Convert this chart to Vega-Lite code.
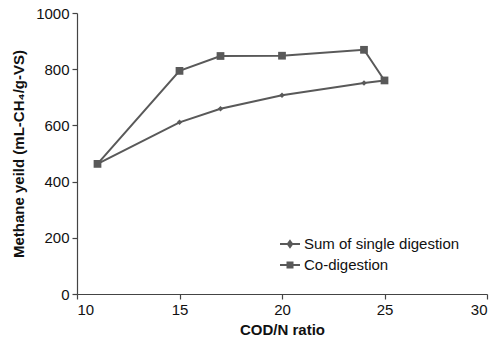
{
  "$schema": "https://vega.github.io/schema/vega-lite/v6.json",
  "width": 410,
  "height": 281,
  "autosize": {"type": "none"},
  "padding": {"left": 77, "top": 13, "right": 8, "bottom": 50},
  "background": "white",
  "config": {
    "view": {"stroke": null},
    "font": "Liberation Sans",
    "axis": {"grid": false, "domainColor": "#444", "tickColor": "#444", "labelColor": "#111", "titleColor": "#111", "labelFont": "Liberation Sans", "titleFont": "Liberation Sans", "labelFontSize": 15, "titleFontSize": 15, "titleFontWeight": "bold", "domainWidth": 1.2, "tickWidth": 1.2, "tickSize": 5}
  },
  "data": {
    "values": [
      {"ratio": 11, "yield": 463, "series": "Sum of single digestion"},
      {"ratio": 15, "yield": 611, "series": "Sum of single digestion"},
      {"ratio": 17, "yield": 659, "series": "Sum of single digestion"},
      {"ratio": 20, "yield": 707, "series": "Sum of single digestion"},
      {"ratio": 24, "yield": 751, "series": "Sum of single digestion"},
      {"ratio": 25, "yield": 760, "series": "Sum of single digestion"},
      {"ratio": 11, "yield": 463, "series": "Co-digestion"},
      {"ratio": 15, "yield": 794, "series": "Co-digestion"},
      {"ratio": 17, "yield": 847, "series": "Co-digestion"},
      {"ratio": 20, "yield": 848, "series": "Co-digestion"},
      {"ratio": 24, "yield": 869, "series": "Co-digestion"},
      {"ratio": 25, "yield": 760, "series": "Co-digestion"}
    ]
  },
  "encoding": {
    "x": {"field": "ratio", "type": "quantitative", "scale": {"domain": [10, 30], "nice": false}, "axis": {"values": [10, 15, 20, 25, 30], "title": "COD/N ratio", "titlePadding": 5, "labelPadding": 3, "format": "d"}},
    "y": {"field": "yield", "type": "quantitative", "scale": {"domain": [0, 1000], "nice": false}, "axis": {"values": [0, 200, 400, 600, 800, 1000], "title": "Methane yeild (mL-CH₄/g-VS)", "titlePadding": 9, "labelPadding": 3, "format": "d"}}
  },
  "layer": [
    {
      "mark": {"type": "line", "strokeWidth": 2},
      "encoding": {
        "detail": {"field": "series"},
        "color": {"value": "#595959"}
      }
    },
    {
      "mark": {"type": "point", "filled": true, "opacity": 1},
      "encoding": {
        "shape": {"condition": {"test": "datum.series === 'Co-digestion'", "value": "square"}, "value": "diamond"},
        "size": {"condition": {"test": "datum.series === 'Co-digestion'", "value": 60}, "value": 30},
        "color": {"value": "#595959"}
      }
    },
    {
      "mark": {"type": "point", "filled": false, "opacity": 0, "strokeWidth": 2},
      "encoding": {
        "shape": {
          "field": "series", "type": "nominal",
          "scale": {"domain": ["Sum of single digestion", "Co-digestion"], "range": ["M-1,0H1M0,-0.3L0.22,0L0,0.3L-0.22,0ZM-0.1,-0.1H0.1M-0.1,0.1H0.1", "M-1,0H1M-0.35,-0.25H0.35M-0.35,-0.08H0.35M-0.35,0.08H0.35M-0.35,0.25H0.35"]},
          "legend": {
            "title": null, "orient": "none", "legendX": 202, "legendY": 220,
            "padding": 0, "symbolSize": 400, "rowPadding": 2, "labelOffset": 3,
            "labelFontSize": 15, "labelColor": "#111", "labelFont": "Liberation Sans",
            "symbolStrokeWidth": 2, "symbolStrokeColor": "#595959", "symbolOpacity": 1
          }
        },
        "color": {"value": "#595959"}
      }
    }
  ]
}
